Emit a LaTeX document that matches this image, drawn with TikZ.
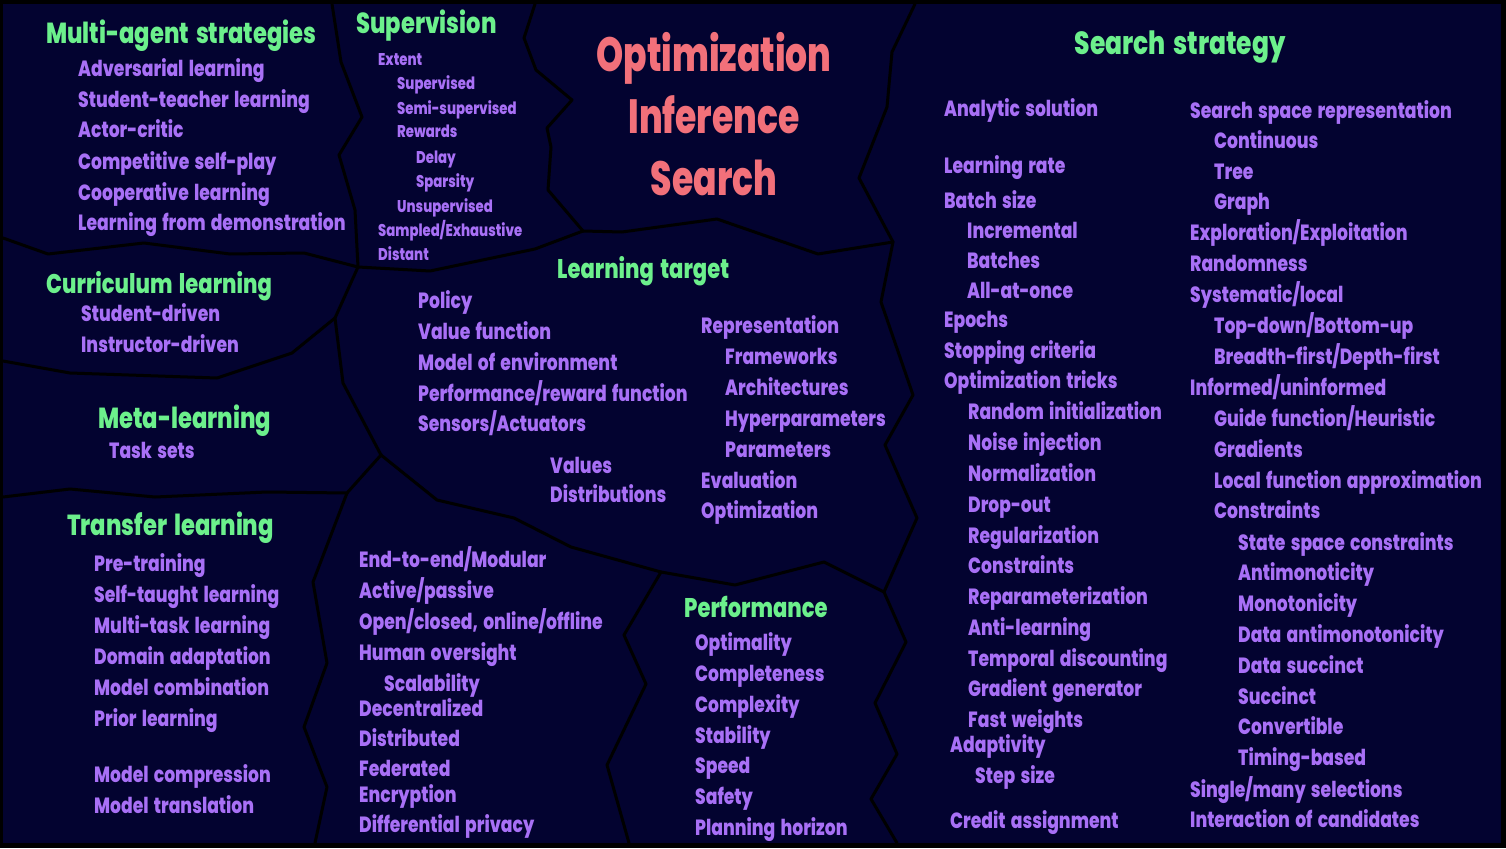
\documentclass[tikz,border=0pt]{standalone}
\usepackage{fontspec}
\setmainfont{Poppins}[FakeStretch=0.78,WordSpace=1.6,BoldFont={Poppins ExtraBold}]
\newfontfamily\titlefont{Poppins}[FakeStretch=0.72,WordSpace=1.6,BoldFont={Poppins ExtraBold}]
\definecolor{navybg}{RGB}{3,3,48}
\definecolor{headc}{RGB}{108,240,140}
\definecolor{itemc}{RGB}{168,112,246}
\definecolor{titlec}{RGB}{242,112,122}
\begin{document}
\begin{tikzpicture}[x=1pt,y=-1pt,
  border/.style={draw=black,line width=3pt,line join=round,line cap=round},
  txt/.style={anchor=base west,inner sep=0pt,font=\bfseries\fontsize{22}{22}\selectfont,text=itemc},
  small/.style={txt,font=\bfseries\fontsize{17}{17}\selectfont},
  head/.style={txt,font=\bfseries\fontsize{29}{29}\selectfont,text=headc},
  titletxt/.style={anchor=base,inner sep=0pt,font=\titlefont\bfseries\fontsize{48}{48}\selectfont,text=titlec}]
\useasboundingbox (0,0) rectangle (1506,848);
% frame and background
\fill[black] (0,0) rectangle (1506,848);
\fill[navybg] (3,4) rectangle (1501,843);

% junctions of the region borders
\coordinate (j1) at (358,267);
\coordinate (j2) at (583,231);
\coordinate (j3) at (893,242);
\coordinate (j4) at (884,592);
\coordinate (j5) at (381,455);
\coordinate (j6) at (335,318);
\coordinate (j7) at (347,493);
\coordinate (j8) at (661,572);

% region borders
\draw[border] (332,4) -- (341,62) -- (362,117) -- (339,155) -- (355,210) -- (j1);
\draw[border] (3,238) -- (48,254) -- (144,243) -- (230,254) -- (304,253) -- (j1);
\draw[border] (j1) -- (430,271) -- (535,249) -- (j2);
\draw[border] (535,4) -- (524,38) -- (536,70) -- (572,100) -- (547,128) -- (551,147) -- (548,190) -- (j2);
\draw[border] (j2) -- (622,232) -- (717,219) -- (818,254) -- (j3);
\draw[border] (915,4) -- (892,52) -- (887,107) -- (859,178) -- (j3);
\draw[border] (j3) -- (881,302) -- (913,395) -- (885,445) -- (917,518) -- (j4) -- (906,642) -- (875,703) -- (897,754) -- (871,799) -- (897,843);
\draw[border] (j5) -- (437,500) -- (514,518) -- (571,547) -- (j8) -- (735,585) -- (824,562) -- (j4);
\draw[border] (j8) -- (624,635) -- (646,684) -- (607,765) -- (629,843);
\draw[border] (j1) -- (j6) -- (343,383) -- (j5);
\draw[border] (j6) -- (292,353) -- (217,378) -- (70,373) -- (3,361);
\draw[border] (j5) -- (j7) -- (267,492) -- (155,497) -- (70,489) -- (3,497);
\draw[border] (j7) -- (313,582) -- (327,663) -- (304,727) -- (327,787) -- (315,843);

% title
\node[titletxt] (t1) at (714,72) {Optimization};
\node[titletxt] (t2) at (714,134) {Inference};
\node[titletxt] (t3) at (714,195) {Search};

% multi-agent strategies
\node[head] (ma) at (46,44) {Multi-agent strategies};
\node[txt] (ma1) at (78,77) {Adversarial learning};
\node[txt] (ma2) at (78,107.5) {Student-teacher learning};
\node[txt] (ma3) at (78,138) {Actor-critic};
\node[txt] (ma4) at (78,169) {Competitive self-play};
\node[txt] (ma5) at (78,200) {Cooperative learning};
\node[txt] (ma6) at (78,230) {Learning from demonstration};

% supervision
\node[head] (sv) at (356,34) {Supervision};
\node[small] (sv1) at (378,66) {Extent};
\node[small] (sv2) at (397,90) {Supervised};
\node[small] (sv3) at (397,114) {Semi-supervised};
\node[small] (sv4) at (397,138) {Rewards};
\node[small] (sv5) at (416,163) {Delay};
\node[small] (sv6) at (416,187) {Sparsity};
\node[small] (sv7) at (397,212) {Unsupervised};
\node[small] (sv8) at (378,236) {Sampled/Exhaustive};
\node[small] (sv9) at (378,260) {Distant};

% curriculum learning
\node[head,font=\bfseries\fontsize{27}{27}\selectfont] (cl) at (46,293) {Curriculum learning};
\node[txt] (cl1) at (81,321) {Student-driven};
\node[txt] (cl2) at (81,352) {Instructor-driven};

% meta-learning
\node[head] (ml) at (98,428) {Meta-learning};
\node[txt] (ml1) at (109,458) {Task sets};

% transfer learning
\node[head] (tl) at (67,535) {Transfer learning};
\node[txt] (tl1) at (94,571) {Pre-training};
\node[txt] (tl2) at (94,602) {Self-taught learning};
\node[txt] (tl3) at (94,633) {Multi-task learning};
\node[txt] (tl4) at (94,664) {Domain adaptation};
\node[txt] (tl5) at (94,695) {Model combination};
\node[txt] (tl6) at (94,726) {Prior learning};
\node[txt] (tl7) at (94,782) {Model compression};
\node[txt] (tl8) at (94,813) {Model translation};

% learning target
\node[head,font=\bfseries\fontsize{27}{27}\selectfont] (lt) at (557,278) {Learning target};
\node[txt] (lt1) at (418,308) {Policy};
\node[txt] (lt2) at (418,339) {Value function};
\node[txt] (lt3) at (418,370) {Model of environment};
\node[txt] (lt4) at (418,401) {Performance/reward function};
\node[txt] (lt5) at (418,431) {Sensors/Actuators};
\node[txt] (lt6) at (550,473) {Values};
\node[txt] (lt7) at (550,502) {Distributions};
\node[txt] (lt8) at (701,333) {Representation};
\node[txt] (lt9) at (725,364) {Frameworks};
\node[txt] (lt10) at (725,395) {Architectures};
\node[txt] (lt11) at (725,426) {Hyperparameters};
\node[txt] (lt12) at (725,457) {Parameters};
\node[txt] (lt13) at (701,488) {Evaluation};
\node[txt] (lt14) at (701,518) {Optimization};

% system properties
\node[txt] (sp1) at (359,567) {End-to-end/Modular};
\node[txt] (sp2) at (359,598) {Active/passive};
\node[txt] (sp3) at (359,629) {Open/closed, online/offline};
\node[txt] (sp4) at (359,660) {Human oversight};
\node[txt] (sp5) at (384,691) {Scalability};
\node[txt] (sp6) at (359,716) {Decentralized};
\node[txt] (sp7) at (359,746) {Distributed};
\node[txt] (sp8) at (359,776) {Federated};
\node[txt] (sp9) at (359,802) {Encryption};
\node[txt] (sp10) at (359,832) {Differential privacy};

% performance
\node[head,font=\bfseries\fontsize{27}{27}\selectfont] (pf) at (684,617) {Performance};
\node[txt] (pf1) at (695,650) {Optimality};
\node[txt] (pf2) at (695,681) {Completeness};
\node[txt] (pf3) at (695,712) {Complexity};
\node[txt] (pf4) at (695,743) {Stability};
\node[txt] (pf5) at (695,773) {Speed};
\node[txt] (pf6) at (695,804) {Safety};
\node[txt] (pf7) at (695,835) {Planning horizon};

% search strategy
\node[head,anchor=base,font=\bfseries\fontsize{32}{32}\selectfont] (ss) at (1180,55) {Search strategy};
\node[txt] (sa1) at (944,117) {Analytic solution};
\node[txt] (sa2) at (944,173) {Learning rate};
\node[txt] (sa3) at (944,208) {Batch size};
\node[txt] (sa4) at (967,238) {Incremental};
\node[txt] (sa5) at (967,268) {Batches};
\node[txt] (sa6) at (967,298) {All-at-once};
\node[txt] (sa7) at (944,327) {Epochs};
\node[txt] (sa8) at (944,358) {Stopping criteria};
\node[txt] (sa9) at (944,388) {Optimization tricks};
\node[txt] (sa10) at (968,419) {Random initialization};
\node[txt] (sa11) at (968,450) {Noise injection};
\node[txt] (sa12) at (968,481) {Normalization};
\node[txt] (sa13) at (968,512) {Drop-out};
\node[txt] (sa14) at (968,543) {Regularization};
\node[txt] (sa15) at (968,573) {Constraints};
\node[txt] (sa16) at (968,604) {Reparameterization};
\node[txt] (sa17) at (968,635) {Anti-learning};
\node[txt] (sa18) at (968,666) {Temporal discounting};
\node[txt] (sa19) at (968,696) {Gradient generator};
\node[txt] (sa20) at (968,727) {Fast weights};
\node[txt] (sa21) at (950,752) {Adaptivity};
\node[txt] (sa22) at (975,783) {Step size};
\node[txt] (sa23) at (950,828) {Credit assignment};

\node[txt] (sb1) at (1190,118) {Search space representation};
\node[txt] (sb2) at (1214,148) {Continuous};
\node[txt] (sb3) at (1214,179) {Tree};
\node[txt] (sb4) at (1214,209) {Graph};
\node[txt] (sb5) at (1190,240) {Exploration/Exploitation};
\node[txt] (sb6) at (1190,271) {Randomness};
\node[txt] (sb7) at (1190,302) {Systematic/local};
\node[txt] (sb8) at (1214,333) {Top-down/Bottom-up};
\node[txt] (sb9) at (1214,364) {Breadth-first/Depth-first};
\node[txt] (sb10) at (1190,395) {Informed/uninformed};
\node[txt] (sb11) at (1214,426) {Guide function/Heuristic};
\node[txt] (sb12) at (1214,457) {Gradients};
\node[txt] (sb13) at (1214,488) {Local function approximation};
\node[txt] (sb14) at (1214,518) {Constraints};
\node[txt] (sb15) at (1238,550) {State space constraints};
\node[txt] (sb16) at (1238,580) {Antimonoticity};
\node[txt] (sb17) at (1238,611) {Monotonicity};
\node[txt] (sb18) at (1238,642) {Data antimonotonicity};
\node[txt] (sb19) at (1238,673) {Data succinct};
\node[txt] (sb20) at (1238,704) {Succinct};
\node[txt] (sb21) at (1238,734) {Convertible};
\node[txt] (sb22) at (1238,765) {Timing-based};
\node[txt] (sb23) at (1190,797) {Single/many selections};
\node[txt] (sb24) at (1190,827) {Interaction of candidates};
\end{tikzpicture}
\end{document}
